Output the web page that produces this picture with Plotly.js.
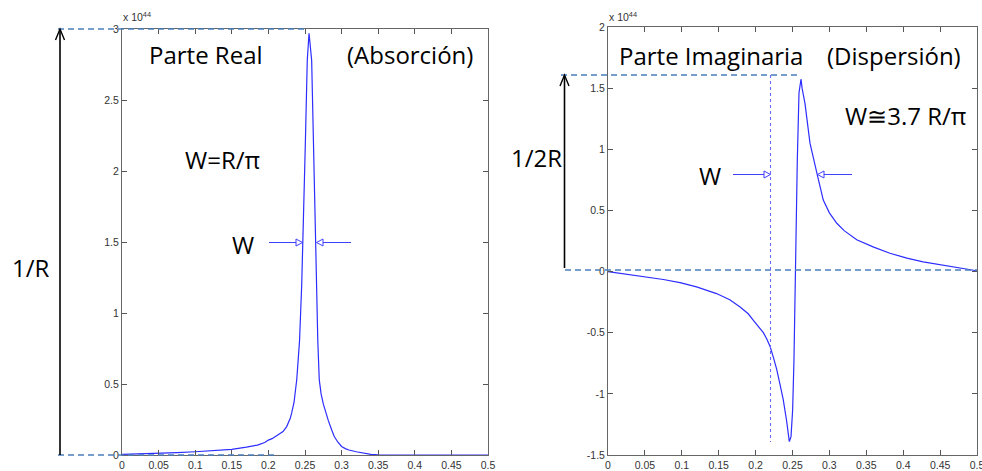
<!DOCTYPE html>
<html>
<head>
<meta charset="utf-8">
<script src="https://cdn.plot.ly/plotly-3.0.1.min.js"></script>
<style>html,body{margin:0;padding:0;background:#fff}</style>
</head>
<body>
<div id="chart" style="width:982px;height:471px"></div>
<script>
// Values in units of 1e44
const realX = [0, 0.025, 0.05, 0.075, 0.1, 0.125, 0.15, 0.17, 0.185, 0.195, 0.2, 0.205, 0.21, 0.215, 0.22, 0.225, 0.23, 0.2318, 0.235, 0.2387, 0.2425, 0.2455, 0.2478, 0.2505, 0.2531, 0.2555, 0.2591, 0.2615, 0.2638, 0.2655, 0.2675, 0.2695, 0.272, 0.275, 0.278, 0.282, 0.2865, 0.29, 0.295, 0.3, 0.305, 0.31, 0.32, 0.33, 0.34, 0.35, 0.4, 0.45, 0.5];
const realY = [0.005, 0.008, 0.012, 0.017, 0.023, 0.03, 0.04, 0.055, 0.07, 0.088, 0.105, 0.115, 0.13, 0.145, 0.165, 0.2, 0.26, 0.296, 0.37, 0.53, 0.8, 1.2, 1.6, 2.2, 2.78, 2.97, 2.78, 2.2, 1.6, 1.2, 0.8, 0.53, 0.43, 0.36, 0.3, 0.24, 0.176, 0.13, 0.09, 0.06, 0.045, 0.035, 0.023, 0.012, 0.005, 0.001, 0, 0, 0];

const imagX = [0, 0.025, 0.047, 0.075, 0.0976, 0.12, 0.147, 0.165, 0.179, 0.19, 0.197, 0.205, 0.2105, 0.215, 0.2195, 0.224, 0.2286, 0.233, 0.2375, 0.242, 0.2457, 0.248, 0.2502, 0.252, 0.2532, 0.254, 0.2555, 0.2565, 0.2588, 0.2603, 0.2615, 0.263, 0.2669, 0.2737, 0.2786, 0.2836, 0.2917, 0.3, 0.31, 0.32, 0.337, 0.36, 0.382, 0.405, 0.427, 0.45, 0.475, 0.4995];
const imagY = [0, -0.02, -0.04, -0.065, -0.09, -0.125, -0.18, -0.23, -0.29, -0.345, -0.40, -0.455, -0.50, -0.55, -0.61, -0.70, -0.80, -0.92, -1.05, -1.22, -1.39, -1.35, -1.13, -0.72, -0.18, 0, 0.5, 0.91, 1.46, 1.56, 1.575, 1.5, 1.376, 1.05, 0.91, 0.79, 0.585, 0.48, 0.395, 0.335, 0.26, 0.2, 0.15, 0.11, 0.08, 0.055, 0.03, 0.007];

const xTickVals = [0, 0.05, 0.1, 0.15, 0.2, 0.25, 0.3, 0.35, 0.4, 0.45, 0.5];
const xTickText = ['0', '0.05', '0.1', '0.15', '0.2', '0.25', '0.3', '0.35', '0.4', '0.45', '0.5'];
const yRealVals = [0, 0.5, 1, 1.5, 2, 2.5, 3];
const yRealText = ['0', '0.5', '1', '1.5', '2', '2.5', '3'];
const yImagVals = [-1.5, -1, -0.5, 0, 0.5, 1, 1.5, 2];
const yImagText = ['-1.5', '-1', '-0.5', '0', '0.5', '1', '1.5', '2'];

const W = 982, H = 471;
const X = px => px / W;
const Y = py => 1 - py / H;

const curveColor = 'rgb(45,45,255)';
const dashColor = '#4a7ebb';

const traces = [
  {x: realX, y: realY, xaxis: 'x', yaxis: 'y', mode: 'lines', line: {color: curveColor, width: 1.2}, hoverinfo: 'skip'},
  {x: imagX, y: imagY, xaxis: 'x2', yaxis: 'y2', mode: 'lines', line: {color: curveColor, width: 1.2}, hoverinfo: 'skip'}
];

const axisCommon = {
  showline: true, linecolor: '#666', linewidth: 1, mirror: 'allticks',
  ticks: 'inside', ticklen: 5, tickcolor: '#555', tickwidth: 1,
  showgrid: false, zeroline: false, ticklabeloverflow: 'allow',
  tickfont: {family: 'Liberation Sans, Arial, sans-serif', size: 10.5, color: '#333'}
};

function line(x0, y0, x1, y1, color, width, dash) {
  return {type: 'line', xref: 'paper', yref: 'paper', x0: X(x0), y0: Y(y0), x1: X(x1), y1: Y(y1),
          line: {color: color, width: width, dash: dash || 'solid'}, layer: 'above'};
}
function path(pts, color, width, closed) {
  let d = pts.map((p, i) => (i ? 'L' : 'M') + X(p[0]) + ',' + Y(p[1])).join(' ');
  if (closed) d += ' Z';
  return {type: 'path', xref: 'paper', yref: 'paper', path: d, line: {color: color, width: width}, layer: 'above'};
}

const shapes = [
  // left plot dashed guides
  line(58, 29, 306, 29, dashColor, 1.3, '6px,4px'),
  line(58, 455, 278, 455, dashColor, 1.3, '6px,4px'),
  // left black arrow
  line(60, 455, 60, 30, '#000', 1.6),
  path([[55.5, 40], [60, 29], [64.5, 40]], '#000', 1.4, false),
  // left blue arrows
  line(269, 242.5, 296, 242.5, '#4040ff', 1),
  path([[302.5, 242.5], [296, 239], [296, 246]], '#4040ff', 1, true),
  line(351, 242.5, 323, 242.5, '#4040ff', 1),
  path([[316.5, 242.5], [323, 239], [323, 246]], '#4040ff', 1, true),
  // right plot dashed guides
  line(561, 75, 800, 75, dashColor, 1.3, '6px,4px'),
  line(565, 270, 977, 270, dashColor, 1.3, '6px,4px'),
  // dotted vertical
  line(770.5, 75, 770.5, 442, '#6a6aff', 1.1, 'dot'),
  // right black arrow
  line(564.5, 268, 564.5, 76, '#000', 1.6),
  path([[560, 86], [564.5, 75], [569, 86]], '#000', 1.4, false),
  // right blue arrows
  line(733, 174.5, 764, 174.5, '#4040ff', 1),
  path([[770.5, 174.5], [764, 171], [764, 178]], '#4040ff', 1, true),
  line(852, 174.5, 824, 174.5, '#4040ff', 1),
  path([[817.5, 174.5], [824, 171], [824, 178]], '#4040ff', 1, true)
];

const txtFont = {family: 'Open Sans, Noto Sans, sans-serif', size: 24, color: '#000'};
function label(text, cx, cy, size) {
  return {text: text, xref: 'paper', yref: 'paper', x: X(cx), y: Y(cy), xanchor: 'center', yanchor: 'middle',
          showarrow: false, font: Object.assign({}, txtFont, size ? {size: size} : {})};
}
const annotations = [
  label('Parte Real', 206, 55),
  label('(Absorción)', 410, 55),
  label('W=R/π', 222, 160),
  label('W', 243, 244),
  label('1/R', 31, 267),
  label('Parte Imaginaria', 711, 56),
  label('(Dispersión)', 894, 56),
  label('W≅3.7 R/π', 905, 116),
  label('W', 710, 176),
  label('1/2R', 536, 158),
  {text: 'x 10<sup>44</sup>', xref: 'paper', yref: 'paper', x: X(121), y: Y(17), xanchor: 'left', yanchor: 'middle',
   showarrow: false, font: {family: 'Liberation Sans, Arial, sans-serif', size: 10.5, color: '#333'}},
  {text: 'x 10<sup>44</sup>', xref: 'paper', yref: 'paper', x: X(607), y: Y(17), xanchor: 'left', yanchor: 'middle',
   showarrow: false, font: {family: 'Liberation Sans, Arial, sans-serif', size: 10.5, color: '#333'}}
];

const layout = {
  width: W, height: H,
  margin: {l: 0, r: 0, t: 0, b: 0},
  paper_bgcolor: '#fff', plot_bgcolor: '#fff',
  showlegend: false,
  xaxis: Object.assign({}, axisCommon, {domain: [X(122), X(488)], range: [0, 0.5], anchor: 'y', tickvals: xTickVals, ticktext: xTickText}),
  yaxis: Object.assign({}, axisCommon, {domain: [Y(455), Y(29)], range: [0, 3], anchor: 'x', tickvals: yRealVals, ticktext: yRealText}),
  xaxis2: Object.assign({}, axisCommon, {domain: [X(608), X(977)], range: [0, 0.5], anchor: 'y2', tickvals: xTickVals, ticktext: xTickText}),
  yaxis2: Object.assign({}, axisCommon, {domain: [Y(455), Y(27)], range: [-1.5, 2], anchor: 'x2', tickvals: yImagVals, ticktext: yImagText}),
  shapes: shapes,
  annotations: annotations
};

Plotly.newPlot('chart', traces, layout, {displayModeBar: false, staticPlot: true});
</script>
</body>
</html>
